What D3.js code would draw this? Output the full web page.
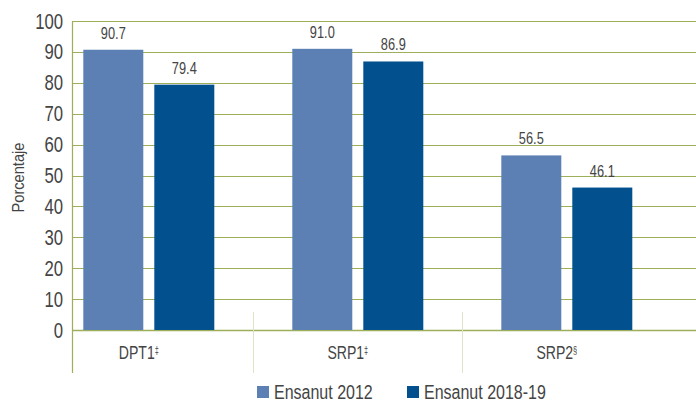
<!DOCTYPE html>
<html>
<head>
<meta charset="utf-8">
<script src="https://cdn.jsdelivr.net/npm/d3@7"></script>
<style>
  html, body { margin: 0; padding: 0; background: #fff; }
  svg { display: block; }
  text { font-family: "Liberation Sans", Arial, sans-serif; fill: #444; }
</style>
</head>
<body>
<div id="chart"></div>
<script>
// Vacunación: cobertura por encuesta
const categories = ["DPT1", "SRP1", "SRP2"];
const categoryMarks = ["‡", "‡", "§"];
const seriesNames = ["Ensanut 2012", "Ensanut 2018-19"];
const values2012 = [90.7, 91.0, 56.5];
const values2018 = [79.4, 86.9, 46.1];
const yTicks = [0, 10, 20, 30, 40, 50, 60, 70, 80, 90, 100];
const yTitle = "Porcentaje";

const W = 696, H = 403;
const colors = ["#5d80b4", "#03508f"];
const gridColor = "#9daf5a";
const sepColor = "#dfe4c8";

const svg = d3.select("#chart").append("svg").attr("width", W).attr("height", H);

// condensed text: a narrow look obtained by squeezing the glyphs horizontally
function narrow(sel, x, y, sx) {
  return sel.attr("transform", (d, i) => {
    const px = typeof x === "function" ? x(d, i) : x;
    const py = typeof y === "function" ? y(d, i) : y;
    return `translate(${px},${py}) scale(${sx},1)`;
  });
}

const plotLeft = 72.5, plotRight = W;
const y = d3.scaleLinear().domain([0, 100]).range([330, 21]);
const x0 = d3.scaleBand().domain(categories).range([44.3, 671.3]).padding(0);
const groupW = 131;
const x1 = d3.scaleBand().domain(seriesNames).range([0, groupW]).paddingInner(0.155).paddingOuter(0);
const center = c => x0(c) + x0.bandwidth() / 2;
const groupStart = c => center(c) - groupW / 2;

// horizontal grid
svg.append("g").selectAll("line").data(yTicks).join("line")
  .attr("x1", plotLeft).attr("x2", plotRight)
  .attr("y1", d => Math.round(y(d)) + 0.5).attr("y2", d => Math.round(y(d)) + 0.5)
  .attr("stroke", gridColor).attr("stroke-width", d => d === 0 ? 1.6 : 1);

// tick labels
svg.append("g").selectAll("text").data(yTicks).join("text")
  .call(narrow, 63, d => y(d) + 7.5, 0.76)
  .attr("text-anchor", "end").style("font-size", "22px")
  .text(d => d);

// axis title
svg.append("text")
  .attr("transform", `translate(24,${(y(0) + y(100)) / 2 + 2}) rotate(-90) scale(0.86,1)`)
  .attr("text-anchor", "middle").style("font-size", "17px")
  .text(yTitle);

// category separators
const seps = categories.slice(1).map(c => x0(c));
svg.append("g").selectAll("line").data(seps).join("line")
  .attr("x1", d => Math.round(d) + 0.5).attr("x2", d => Math.round(d) + 0.5)
  .attr("y1", 312).attr("y2", 373)
  .attr("stroke", sepColor).attr("stroke-width", 1);

// left axis line
svg.append("line")
  .attr("x1", plotLeft).attr("x2", plotLeft)
  .attr("y1", y(100)).attr("y2", 373)
  .attr("stroke", gridColor).attr("stroke-width", 1.2);

// bars
const rows = categories.map((c, i) => ({ cat: c, vals: [values2012[i], values2018[i]] }));
const groups = svg.append("g").selectAll("g").data(rows).join("g")
  .attr("transform", d => `translate(${groupStart(d.cat)},0)`);

groups.selectAll("rect").data(d => d.vals.map((v, j) => ({ s: seriesNames[j], v, j }))).join("rect")
  .attr("x", d => x1(d.s)).attr("width", x1.bandwidth())
  .attr("y", d => y(d.v)).attr("height", d => y(0) - y(d.v))
  .attr("fill", d => colors[d.j]);

groups.selectAll("text.val").data(d => d.vals.map((v, j) => ({ s: seriesNames[j], v }))).join("text")
  .attr("class", "val")
  .call(narrow, d => x1(d.s) + x1.bandwidth() / 2, d => y(d.v) - 11, 0.8)
  .attr("text-anchor", "middle").style("font-size", "16px")
  .text(d => d.v.toFixed(1));

// category labels
const catLabels = svg.append("g").selectAll("text").data(categories).join("text")
  .call(narrow, d => center(d) - 10, 359, 0.74)
  .attr("text-anchor", "middle").style("font-size", "19px");
catLabels.append("tspan").text(d => d);
catLabels.append("tspan")
  .attr("dy", "-0.5em").style("font-size", "10px")
  .text((d, i) => categoryMarks[i]);

// legend
const legendX = [257, 407];
const legend = svg.append("g").selectAll("g").data(seriesNames).join("g")
  .attr("transform", (d, i) => `translate(${legendX[i]},386)`);
legend.append("rect").attr("width", 12).attr("height", 12).attr("fill", (d, i) => colors[i]);
legend.append("text")
  .call(narrow, 17, 13, 0.8)
  .style("font-size", "20px").text(d => d);
</script>
</body>
</html>
